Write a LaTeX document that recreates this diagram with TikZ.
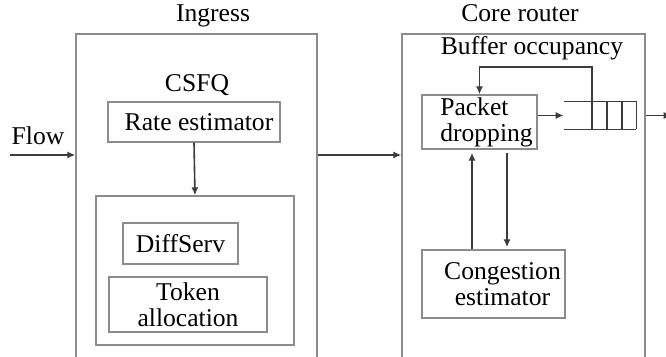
\documentclass[tikz,border=0pt]{standalone}
\usepackage{fontspec}
\setmainfont{Liberation Serif}
\usepackage{xcolor}
\usetikzlibrary{calc,positioning,arrows.meta}
\definecolor{boxgray}{HTML}{8C8C8C}
\definecolor{arrgray}{HTML}{3C3C3C}

\begin{document}
\begin{tikzpicture}[x=0.5pt,y=-0.5pt,
    font=\fontsize{12.8}{13}\selectfont,
    block/.style={draw=boxgray, line width=0.7pt, inner sep=0pt, align=center},
    arr/.style={draw=arrgray, line width=0.8pt, -{Latex[length=4pt,width=3.6pt]}},
    qline/.style={draw=arrgray, line width=0.7pt}]
            \useasboundingbox (0,0) rectangle (666,357);
            \clip (0,0) rectangle (666,357);
            % outer frames
            \node[block, minimum width=120.5pt, minimum height=173pt] at (196.5,207) (ingress) {};
            \node[block, minimum width=121.5pt, minimum height=173pt] at (523.5,207) (core) {};
            \node[anchor=base] at (213,22) (ingresslbl) {Ingress};
            \node[anchor=base] at (520,22) (corelbl) {Core router};
            % ingress side
            \node[anchor=base] at (197,92) (csfqlbl) {CSFQ};
            \node[block, minimum width=86pt, minimum height=20pt] at (194,122) (rate) {\hspace*{5pt}Rate estimator};
            \node[block, minimum width=99pt, minimum height=74.5pt] at (195,270.5) (inner) {};
            \node[block, minimum width=57.5pt, minimum height=20.5pt] at (180.5,243.5) (diffserv) {DiffServ};
            \node[block, minimum width=79pt, minimum height=27.5pt] at (188,304.5) (token) {Token\\allocation};
            \coordinate (flowin) at (10,155);
            \node[anchor=base] at (38,145) (flowlbl) {Flow};
            \draw[arr] (flowin) -- (ingress.west |- flowin);
            \draw[arr] (rate.south) -- (inner.north);
            \draw[arr] (ingress.east |- flowin) -- (core.west |- flowin);
            % core router side
            \node[anchor=base] at (532,55) (bufferlbl) {Buffer occupancy};
            \node[block, minimum width=57.5pt, minimum height=27pt, align=left] at (479.5,122) (drop) {\hspace*{7pt}Packet\\\hspace*{7pt}dropping};
            \node[block, minimum width=71.5pt, minimum height=34pt] at (493.5,284) (cong) {\hspace*{9pt}Congestion\\\hspace*{9pt}estimator};
            \node[minimum width=36pt, minimum height=13.5pt, inner sep=0pt] at (600,115.5) (queue) {};
            \draw[qline] (queue.north west) -- (queue.north east) -- (queue.south east);
            \draw[qline] (queue.south west) -- (queue.south east);
            \foreach \qx in {592,607,622}
                \draw[qline] (\qx,102) -- (\qx,129);
            \coordinate (tap) at (592,102);
            \draw[arr] (tap) -- ++(0,-35) -| (drop.north);
            \draw[arr] (drop.east |- queue.west) -- (queue.west);
            \draw[arr] (core.east |- queue.west) -- ++(26,0);
            \draw[arr, shorten >=1.5pt] ([xshift=-3.75pt]drop.south |- cong.north) -- ([xshift=-3.75pt]drop.south);
            \draw[arr, shorten <=1.5pt, shorten >=1pt] ([xshift=13.75pt]drop.south) -- ([xshift=13.75pt]drop.south |- cong.north);
        \end{tikzpicture}
\end{document}
